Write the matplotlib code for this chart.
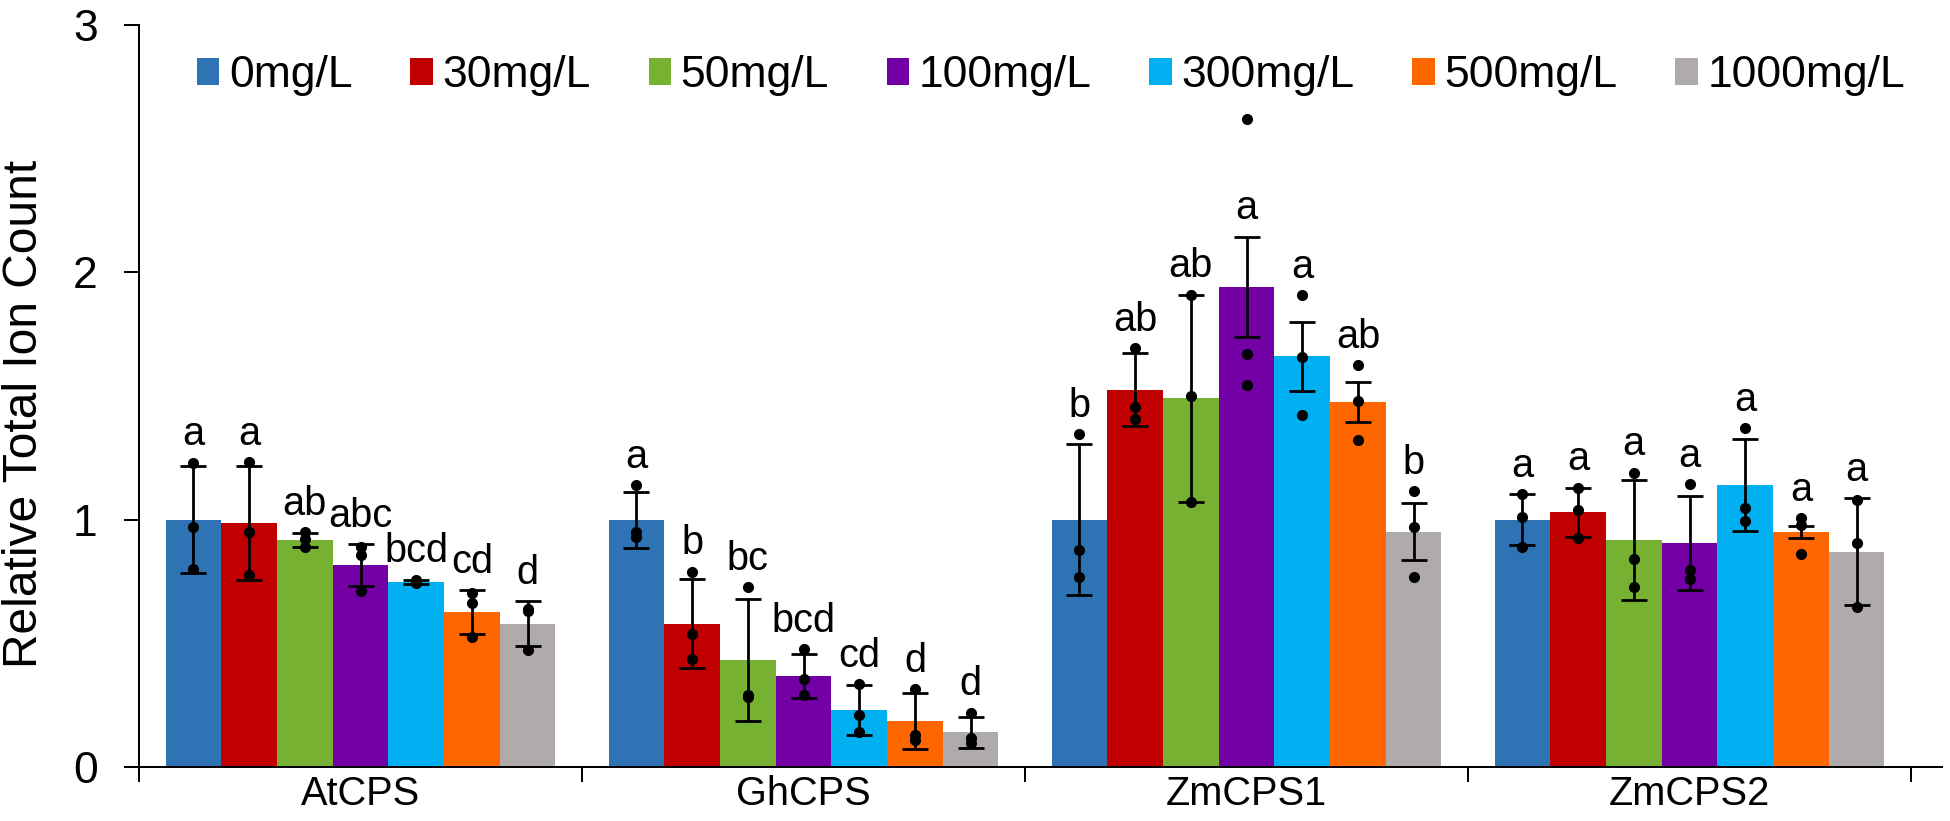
import matplotlib
matplotlib.use("Agg")
import matplotlib.pyplot as plt
import numpy as np

plt.rcParams['font.family'] = ['Liberation Sans', 'DejaVu Sans']

groups = ['AtCPS', 'GhCPS', 'ZmCPS1', 'ZmCPS2']
series = ['0mg/L', '30mg/L', '50mg/L', '100mg/L', '300mg/L', '500mg/L', '1000mg/L']
colors = ['#2E74B5', '#C00000', '#76B132', '#7300A5', '#00B0F0', '#FF6600', '#AFABAB']

# mean values, one list per concentration (order: AtCPS, GhCPS, ZmCPS1, ZmCPS2)
mean_0 = [1.00, 1.00, 1.00, 1.00]
mean_30 = [0.985, 0.58, 1.525, 1.03]
mean_50 = [0.917, 0.434, 1.49, 0.917]
mean_100 = [0.817, 0.367, 1.941, 0.906]
mean_300 = [0.749, 0.23, 1.66, 1.142]
mean_500 = [0.626, 0.185, 1.475, 0.95]
mean_1000 = [0.58, 0.14, 0.951, 0.871]

err_0 = [0.215, 0.113, 0.305, 0.102]
err_30 = [0.23, 0.18, 0.147, 0.10]
err_50 = [0.029, 0.247, 0.417, 0.243]
err_100 = [0.084, 0.089, 0.203, 0.19]
err_300 = [0.008, 0.10, 0.14, 0.186]
err_500 = [0.09, 0.113, 0.082, 0.026]
err_1000 = [0.09, 0.063, 0.115, 0.215]

# individual replicate points
pts_0 = [[1.23, 0.97, 0.80], [1.14, 0.95, 0.93], [1.345, 0.878, 0.767], [1.104, 1.012, 0.891]]
pts_30 = [[1.232, 0.951, 0.776], [0.79, 0.536, 0.435], [1.694, 1.456, 1.408], [1.13, 1.04, 0.925]]
pts_50 = [[0.95, 0.92, 0.89], [0.727, 0.29, 0.285], [1.91, 1.502, 1.073], [1.19, 0.84, 0.727]]
pts_100 = [[0.89, 0.857, 0.713], [0.476, 0.355, 0.291], [2.619, 1.671, 1.543], [1.143, 0.797, 0.759]]
pts_300 = [[0.755, 0.75, 0.745], [0.336, 0.21, 0.143], [1.907, 1.657, 1.422], [1.369, 1.046, 0.996]]
pts_500 = [[0.702, 0.662, 0.526], [0.314, 0.129, 0.109], [1.625, 1.479, 1.322], [1.006, 0.98, 0.861]]
pts_1000 = [[0.64, 0.63, 0.473], [0.22, 0.116, 0.098], [1.115, 0.972, 0.767], [1.08, 0.907, 0.646]]

# significance letters
letters_0 = ['a', 'a', 'b', 'a']
letters_30 = ['a', 'b', 'ab', 'a']
letters_50 = ['ab', 'bc', 'ab', 'a']
letters_100 = ['abc', 'bcd', 'a', 'a']
letters_300 = ['bcd', 'cd', 'a', 'a']
letters_500 = ['cd', 'd', 'ab', 'a']
letters_1000 = ['d', 'd', 'b', 'a']

means = [mean_0, mean_30, mean_50, mean_100, mean_300, mean_500, mean_1000]
errs = [err_0, err_30, err_50, err_100, err_300, err_500, err_1000]
pts = [pts_0, pts_30, pts_50, pts_100, pts_300, pts_500, pts_1000]
letters = [letters_0, letters_30, letters_50, letters_100, letters_300, letters_500, letters_1000]

W, H = 1950, 821
fig = plt.figure(figsize=(W / 100, H / 100), dpi=100)
ax = fig.add_axes([139 / W, (H - 767) / H, (1942 - 139) / W, (767 - 25) / H])

n = len(series)
bw = 0.88 / n
xg = np.arange(len(groups))
handles = []
for j in range(n):
    x = xg + (j - (n - 1) / 2) * bw
    b = ax.bar(x, means[j], width=bw, color=colors[j], linewidth=0, zorder=2, label=series[j])
    handles.append(b)
    ax.errorbar(x, means[j], yerr=errs[j], fmt='none', ecolor='black', elinewidth=2.0,
                capsize=9.7, capthick=2.0, zorder=3)
    for gi in range(len(groups)):
        p = pts[j][gi]
        ax.plot([x[gi]] * len(p), p, 'o', color='black', markersize=7, zorder=4)
        top = means[j][gi] + errs[j][gi]
        near = [v for v in p if v < top + 0.3]
        base = max([top] + near) + 0.07
        ax.text(x[gi], base, letters[j][gi], ha='center', va='baseline', fontsize=28.6, zorder=5)

ax.set_ylim(0, 3)
ax.set_xlim(-0.5, 3.5 + 31 / 443)
ax.set_yticks([0, 1, 2, 3])
ax.set_yticklabels(['0', '1', '2', '3'], fontsize=32)
ax.set_xticks(xg)
ax.set_xticklabels(groups, fontsize=28.6)
ax.set_xticks(np.arange(-0.5, len(groups), 1.0), minor=True)
ax.tick_params(axis='x', which='major', length=0, pad=6)
ax.tick_params(axis='x', which='minor', length=10.8, width=1.44, direction='out')
ax.tick_params(axis='y', which='major', length=10.8, width=1.44, direction='out', pad=19)
for s in ['top', 'right']:
    ax.spines[s].set_visible(False)
for s in ['left', 'bottom']:
    ax.spines[s].set_linewidth(1.44)

fig.text(25 / W, 1 - 414 / H, 'Relative Total Ion Count', rotation=90, ha='center', va='center',
         fontsize=34.5)

fig.legend(handles=handles, labels=series, ncol=n, loc='center left',
           bbox_to_anchor=(197 / W, 1 - 76 / H), frameon=False, fontsize=32,
           handlelength=0.5, handleheight=0.56, handletextpad=0.22, columnspacing=1.3,
           borderpad=0, borderaxespad=0)

fig.savefig('out.png', dpi=100)
